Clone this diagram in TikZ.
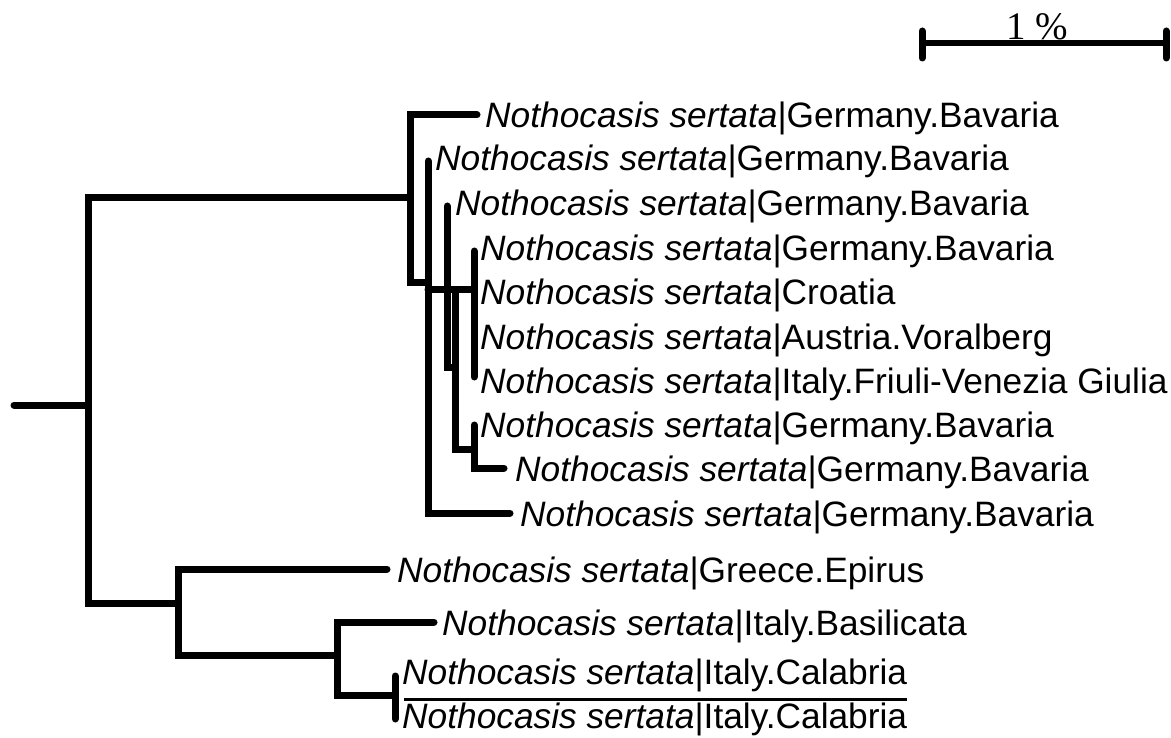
\documentclass[tikz,border=0pt]{standalone}
\usepackage{fontspec}
\setmainfont{Liberation Sans}
\newfontfamily\barfont{Liberation Serif}
\begin{document}
\begin{tikzpicture}[x=1pt,y=-1pt,
  br/.style={line width=7pt, line cap=round, line join=miter},
  lab/.style={anchor=base west, inner sep=0pt, font=\fontsize{35.3}{42}\selectfont},
  sep/.style={line width=3pt},
  scalebar/.style={line width=6.5pt},
  tick/.style={line width=7pt, line cap=round}]
\useasboundingbox (0,0) rectangle (1171,738);

% ---- internal node coordinates ----
\coordinate (r0) at (14,405);
\coordinate (n0) at (88,405);
\coordinate (nA) at (410,198);
\coordinate (nG) at (178,603);
\coordinate (nH) at (337,655);
\coordinate (nK) at (395,695);

% ---- leaf labels ----
\node[lab] (l1)  at (485,128) {\textit{Nothocasis sertata}|Germany.Bavaria};
\node[lab] (l2)  at (435,171) {\textit{Nothocasis sertata}|Germany.Bavaria};
\node[lab] (l3)  at (455,216) {\textit{Nothocasis sertata}|Germany.Bavaria};
\node[lab] (l4)  at (480,261) {\textit{Nothocasis sertata}|Germany.Bavaria};
\node[lab] (l5)  at (480,305) {\textit{Nothocasis sertata}|Croatia};
\node[lab] (l6)  at (480,349) {\textit{Nothocasis sertata}|Austria.Voralberg};
\node[lab] (l7)  at (480,393) {\textit{Nothocasis sertata}|Italy.Friuli-Venezia Giulia};
\node[lab] (l8)  at (480,437) {\textit{Nothocasis sertata}|Germany.Bavaria};
\node[lab] (l9)  at (515,481) {\textit{Nothocasis sertata}|Germany.Bavaria};
\node[lab] (l10) at (520,526) {\textit{Nothocasis sertata}|Germany.Bavaria};
\node[lab] (l11) at (397,582) {\textit{Nothocasis sertata}|Greece.Epirus};
\node[lab] (l12) at (442,635) {\textit{Nothocasis sertata}|Italy.Basilicata};
\node[lab] (l13) at (402,684) {\textit{Nothocasis sertata}|Italy.Calabria};
\node[lab] (l14) at (402,728) {\textit{Nothocasis sertata}|Italy.Calabria};

% ---- branches ----
\draw[br] (r0) -- (n0);
\draw[br] (nA) -| (n0) |- (nG);
% upper clade
\draw[br] (477,115) -- (410,115) -- (410,283) -- (428,283);
\draw[br] (428,161) -- (428,513) -- (510,513);
\draw[br] (428,290) -- (474,290);
\draw[br] (447,206) -- (447,367) -- (455,367);
\draw[br] (455,290) -- (455,449) -- (474,449);
\draw[br] (474,251) -- (474,377);
\draw[br] (474,425) -- (474,468) -- (504,468);
% lower clade
\draw[br] (387,569) -- (nG |- 0,569) -- (nG |- 0,655) -- (nH);
\draw[br] (nH) -- (337,622) -- (434,622);
\draw[br] (nH) -- (337,695) -- (nK);
\draw[tick] (395,676) -- (395,719);
\draw[sep] (l13.south west) ++(2,8) coordinate (s0) -- (s0 -| l13.east);

% ---- scale bar ----
\coordinate (sb0) at (922,43);
\coordinate (sb1) at (1166,43);
\draw[scalebar] (sb0) -- (sb1);
\draw[tick] (922,31) -- (922,58);
\draw[tick] (1166,31) -- (1166,58);
\node[anchor=base, inner sep=0pt, font=\barfont\fontsize{39}{42}\selectfont] (sbl) at (1037,40) {1 \%};
\end{tikzpicture}
\end{document}
